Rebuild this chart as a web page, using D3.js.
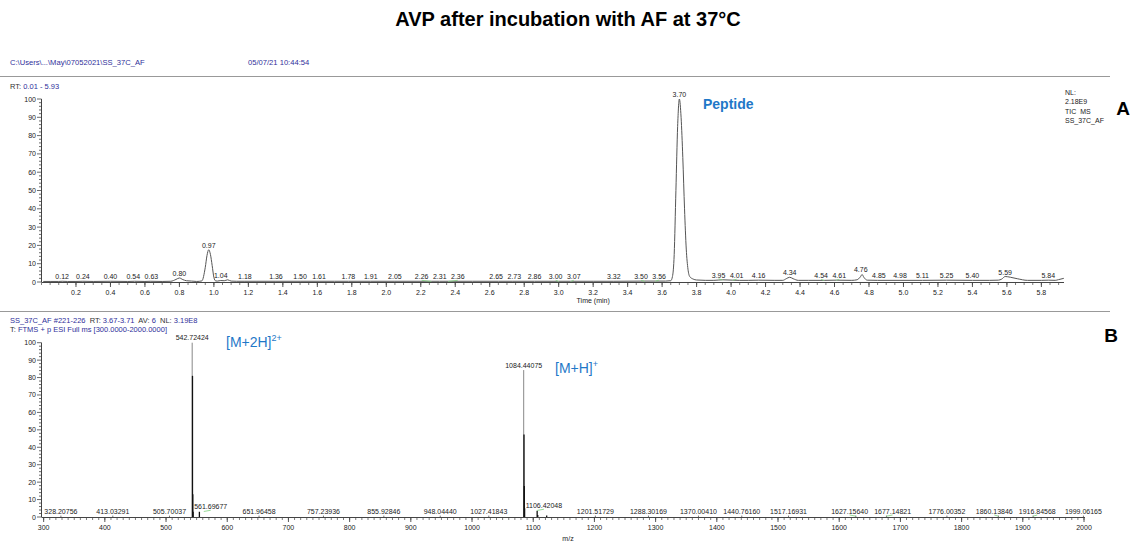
<!DOCTYPE html>
<html><head><meta charset="utf-8">
<script src="https://cdn.jsdelivr.net/npm/d3@7"></script>
<style>body{margin:0;background:#fff}svg{display:block;font-family:"Liberation Sans",Arial,sans-serif}</style>
</head><body><svg id="c" width="1137" height="543"></svg>
<script>
// ---- Panel A: chromatogram (TIC) ----
const rtTimes = [0.01,0.05,0.10,0.12,0.15,0.20,0.24,0.30,0.40,0.50,0.54,0.60,0.63,0.70,0.75,0.78,0.80,0.82,0.84,0.87,0.90,0.93,0.95,0.96,0.97,0.98,0.99,1.00,1.01,1.02,1.04,1.06,1.08,1.10,1.13,1.18,1.25,1.36,1.50,1.61,1.70,1.78,1.91,2.05,2.26,2.31,2.36,2.50,2.65,2.73,2.86,3.00,3.07,3.20,3.32,3.50,3.56,3.62,3.65,3.66,3.67,3.68,3.69,3.70,3.71,3.72,3.73,3.74,3.75,3.76,3.78,3.80,3.85,3.90,3.95,4.01,4.05,4.10,4.16,4.25,4.30,4.32,4.34,4.36,4.39,4.45,4.54,4.61,4.70,4.73,4.75,4.76,4.77,4.79,4.85,4.98,5.11,5.25,5.40,5.50,5.55,5.57,5.59,5.62,5.66,5.72,5.80,5.84,5.88,5.90,5.93];
const rtIntensity = [0.3,0.3,0.3,0.4,0.3,0.3,0.4,0.3,0.4,0.3,0.4,0.3,0.4,0.3,0.4,1.4,2.2,1.3,0.7,0.5,0.3,0.6,8.0,14.5,17.6,15.0,9.0,2.5,0.6,0.5,0.8,0.7,1.2,0.5,0.4,0.4,0.4,0.4,0.4,0.4,0.4,0.4,0.4,0.4,0.4,0.4,0.4,0.4,0.4,0.4,0.4,0.4,0.4,0.4,0.4,0.5,0.5,0.5,0.7,3,15,50,85,100,90,68,40,18,7,3,1.6,1.1,0.9,0.9,1.2,1.0,0.9,0.9,1.0,0.9,0.9,1.8,2.6,1.8,0.9,0.9,0.9,1.0,0.9,1.2,2.8,4.1,2.6,1.0,0.9,0.9,0.9,1.0,0.9,0.9,1.0,1.6,3.0,2.6,1.8,0.9,0.9,1.0,0.9,1.3,2.0];
const rtPeakLabels = ["0.12","0.24","0.40","0.54","0.63","0.80","0.97","1.04","1.18","1.36","1.50","1.61","1.78","1.91","2.05","2.26","2.31","2.36","2.65","2.73","2.86","3.00","3.07","3.32","3.50","3.56","3.70","3.95","4.01","4.16","4.34","4.54","4.61","4.76","4.85","4.98","5.11","5.25","5.40","5.59","5.84"];
const rtPeakHeights = [0.4,0.4,0.4,0.4,0.4,2.2,17.6,1.2,0.4,0.4,0.4,0.4,0.4,0.4,0.4,0.4,0.4,0.4,0.4,0.4,0.4,0.4,0.4,0.4,0.4,0.5,100,1.2,1.0,1.0,2.6,0.9,1.0,4.1,0.9,0.9,1.0,1.0,0.9,3.0,1.3];
const rtTicks = [0.2,0.4,0.6,0.8,1.0,1.2,1.4,1.6,1.8,2.0,2.2,2.4,2.6,2.8,3.0,3.2,3.4,3.6,3.8,4.0,4.2,4.4,4.6,4.8,5.0,5.2,5.4,5.6,5.8];
const yTicks = [0,10,20,30,40,50,60,70,80,90,100];

// ---- Panel B: mass spectrum ----
const mzSticks = [542.72424,543.22,543.72,544.22,554.5,1084.44075,1084.94,1085.44,1085.94,1106.42048,1107.4,1122];
const mzStickHeights = [100,81,13,3,3,84.3,47.4,17.8,5,3.6,1.2,0.8];
const mzStickDark = [false,true,true,true,true,false,true,true,true,true,true,true];
const mzLabels = ["328.20756","413.03291","505.70037","542.72424","561.69677","651.96458","757.23936","855.92846","948.04440","1027.41843","1084.44075","1106.42048","1201.51729","1288.30169","1370.00410","1440.76160","1517.16931","1627.15640","1677.14821","1776.00352","1860.13846","1916.84568","1999.06165"];
const mzLabelHeights = [0.3,0.3,0.3,100,3,0.3,0.3,0.3,0.3,0.3,84.3,3.6,0.3,0.3,0.3,0.3,0.3,0.3,0.3,0.3,0.3,0.3,0.3];
const mzTicks = [300,400,500,600,700,800,900,1000,1100,1200,1300,1400,1500,1600,1700,1800,1900,2000];

const svg = d3.select("#c");
const blue = "#2f2f9a", dark = "#333", trace = "#555", green = "#7ccf7c", annot = "#1f78c8";
const LF = 7; // small label font

svg.append("text").attr("x",568).attr("y",26).attr("text-anchor","middle")
  .attr("font-size",20).attr("font-weight","bold").attr("fill","#000").text("AVP after incubation with AF at 37°C");

svg.append("text").attr("x",10).attr("y",65).attr("font-size",7.6).attr("fill",blue).text("C:\\Users\\...\\May\\07052021\\SS_37C_AF");
svg.append("text").attr("x",248).attr("y",65).attr("font-size",7.6).attr("fill",blue).text("05/07/21 10:44:54");
svg.append("line").attr("x1",0).attr("x2",1110).attr("y1",76.5).attr("y2",76.5).attr("stroke","#999");
svg.append("line").attr("x1",0).attr("x2",1110).attr("y1",311.5).attr("y2",311.5).attr("stroke","#999");

function mixed(x,y,parts){
  const t = svg.append("text").attr("x",x).attr("y",y).attr("font-size",7.5).attr("xml:space","preserve");
  parts.forEach(p=>t.append("tspan").attr("fill",p[1]?blue:dark).text(p[0]));
}
mixed(10,89,[["RT: ",0],["0.01 - 5.93",1]]);

function drawAxes(g,x,y,majors,minorStep,fmt,y0,xEnd){
  g.append("line").attr("x1",41.5).attr("x2",41.5).attr("y1",y(100)).attr("y2",y0).attr("stroke","#444");
  d3.range(0,101,2).forEach(v=>{
    const major = v%10===0;
    g.append("line").attr("x1",major?37:39).attr("x2",41.5).attr("y1",y(v)).attr("y2",y(v)).attr("stroke","#444").attr("stroke-width",0.8);
  });
  g.selectAll(null).data(yTicks).join("text").attr("x",36).attr("y",d=>y(d)+2.5)
    .attr("text-anchor","end").attr("font-size",LF).attr("fill","#222").text(d=>d);
  g.append("line").attr("x1",41.5).attr("x2",xEnd).attr("y1",y0+0.5).attr("y2",y0+0.5).attr("stroke","#444");
  const minors = d3.range(Math.ceil(x.domain()[0]/minorStep)*minorStep, x.domain()[1]+1e-9, minorStep);
  g.selectAll(null).data(minors).join("line").attr("x1",d=>x(d)).attr("x2",d=>x(d))
    .attr("y1",y0+0.5).attr("y2",y0+3).attr("stroke","#444").attr("stroke-width",0.7);
  g.selectAll(null).data(majors).join("line").attr("x1",d=>x(d)).attr("x2",d=>x(d))
    .attr("y1",y0+0.5).attr("y2",y0+5).attr("stroke","#444").attr("stroke-width",0.9);
  g.selectAll(null).data(majors).join("text").attr("x",d=>x(d)).attr("y",y0+13)
    .attr("text-anchor","middle").attr("font-size",LF).attr("fill","#222").text(fmt);
}

// label placement with collision avoidance (like the instrument software)
function placeLabels(g, items, gap, obstacles){
  items.forEach(it=>{
    const t = g.append("text").attr("font-size",LF).attr("text-anchor","middle").attr("fill","#222").text(it.text);
    it.node = t; it.w = t.node().getComputedTextLength(); it.x = it.x0;
    (obstacles||[]).forEach(o=>{
      if (o.top < it.y - 6 && Math.abs(o.x - it.x0) > 3 && o.x > it.x - it.w/2 - 1 && o.x < it.x + it.w/2 + 1) {
        it.x = Math.max(it.x, o.x + 2 + it.w/2);
      }
    });
  });
  const s = items.slice().sort((a,b)=>a.x0-b.x0);
  for (let iter=0; iter<300; iter++){
    let moved=false;
    for (let i=0;i<s.length;i++) for (let j=i+1;j<s.length;j++){
      const a=s[i], b=s[j];
      if (Math.abs(a.y-b.y) >= 7) continue;
      const need = (a.w+b.w)/2 + gap - (b.x - a.x);
      if (need > 0.01){ a.x -= need/2; b.x += need/2; moved=true; }
    }
    if(!moved) break;
  }
  items.forEach(it=>{
    it.node.attr("x",it.x).attr("y",it.y);
    if (Math.abs(it.x-it.x0) > 3){
      const dx = Math.sign(it.x-it.x0)*Math.min(Math.abs(it.x-it.x0), 10);
      g.append("line").attr("x1",it.x0).attr("x2",it.x0+dx).attr("y1",it.y+2.2).attr("y2",it.y+1)
        .attr("stroke",green).attr("stroke-width",0.8);
    }
  });
}

// ---- Panel A ----
const xA = d3.scaleLinear().domain([0,5.93]).range([41.5,1063.8]);
const yA = d3.scaleLinear().domain([0,100]).range([282,99]);
const gA = svg.append("g");
drawAxes(gA,xA,yA,rtTicks,0.05,d3.format(".1f"),282,1064);

const lineA = d3.line().x((d,i)=>xA(rtTimes[i])).y((d,i)=>yA(rtIntensity[i])).curve(d3.curveMonotoneX);
gA.append("path").datum(rtIntensity).attr("d",lineA).attr("fill","none").attr("stroke",trace).attr("stroke-width",1);

placeLabels(gA, rtPeakLabels.map((lab,i)=>({text:lab, x0:xA(+lab), y:yA(rtPeakHeights[i])-2})), 4.5);

gA.append("text").attr("x",xA(3.2)).attr("y",303).attr("text-anchor","middle").attr("font-size",LF).attr("fill","#222").text("Time (min)");
gA.append("text").attr("x",703).attr("y",109).attr("font-size",14).attr("font-weight","bold").attr("fill",annot).text("Peptide");
["NL:","2.18E9","TIC  MS","SS_37C_AF"].forEach((t,i)=>gA.append("text").attr("x",1065).attr("y",95+i*9.3).attr("font-size",LF).attr("fill","#222").attr("xml:space","preserve").text(t));
svg.append("text").attr("x",1123).attr("y",115).attr("text-anchor","middle").attr("font-size",19).attr("font-weight","bold").text("A");

// ---- Panel B ----
mixed(10,323,[["SS_37C_AF #221-226",1],["  RT: ",0],["3.67-3.71",1],["  AV: ",0],["6",1],["  NL: ",0],["3.19E8",1]]);
mixed(10,332,[["T: ",0],["FTMS + p ESI Full ms [300.0000-2000.0000]",1]]);

const xB = d3.scaleLinear().domain([296.5,2000]).range([41.5,1084]);
const yB = d3.scaleLinear().domain([0,100]).range([517,342.7]);
const gB = svg.append("g");
drawAxes(gB,xB,yB,mzTicks,10,d3.format("d"),517,1085);

gB.selectAll(null).data(mzSticks).join("line")
  .attr("x1",d=>xB(d)).attr("x2",d=>xB(d)).attr("y1",yB(0)).attr("y2",(d,i)=>yB(mzStickHeights[i]))
  .attr("stroke",(d,i)=>mzStickDark[i]?"#111":"#888").attr("stroke-width",(d,i)=>mzStickDark[i]?1.3:1);
gB.selectAll(null).data(mzLabels.filter((d,i)=>mzLabelHeights[i]<1)).join("line")
  .attr("x1",d=>xB(+d)).attr("x2",d=>xB(+d)).attr("y1",yB(0)).attr("y2",yB(0.8)).attr("stroke","#555").attr("stroke-width",0.8);

const obstacles = mzSticks.map((m,i)=>({x:xB(m), top:yB(mzStickHeights[i])}));
placeLabels(gB, mzLabels.map((lab,i)=>({text:lab, x0:xB(+lab), y:yB(mzLabelHeights[i])-2.5})), 6, obstacles);

gB.append("text").attr("x",568).attr("y",541).attr("text-anchor","middle").attr("font-size",LF).attr("fill","#222").text("m/z");

const t1 = gB.append("text").attr("x",226).attr("y",347).attr("font-size",14).attr("fill",annot);
t1.append("tspan").text("[M+2H]"); t1.append("tspan").attr("dy",-6).attr("font-size",9).text("2+");
const t2 = gB.append("text").attr("x",555).attr("y",373).attr("font-size",14).attr("fill",annot);
t2.append("tspan").text("[M+H]"); t2.append("tspan").attr("dy",-6).attr("font-size",9).text("+");
svg.append("text").attr("x",1111).attr("y",342).attr("text-anchor","middle").attr("font-size",19).attr("font-weight","bold").text("B");
</script></body></html>
